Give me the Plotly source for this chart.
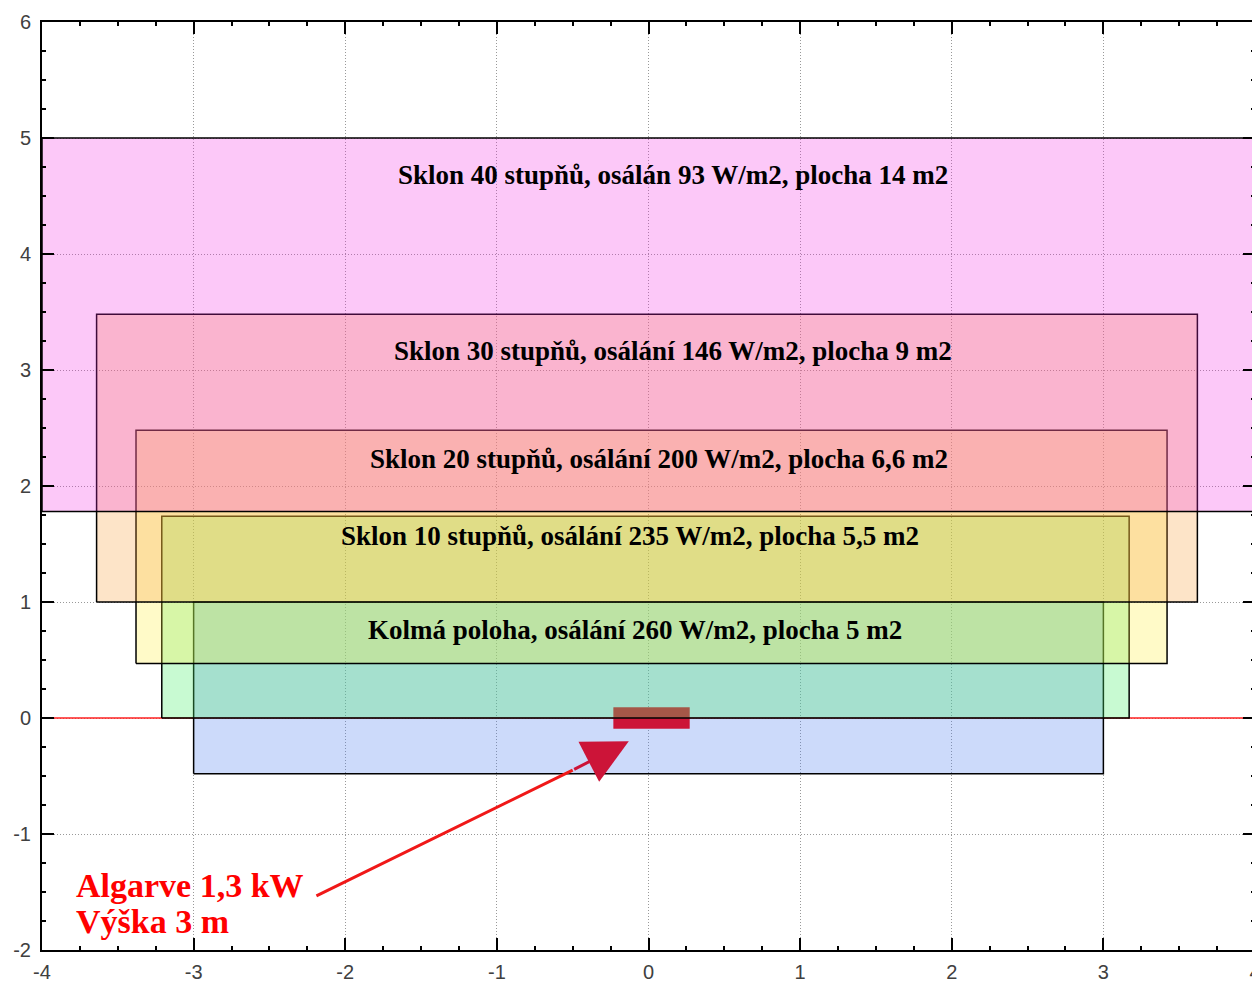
import plotly.graph_objects as go

# ---- data ----
labels = [
    "Kolmá poloha, osálání 260 W/m2, plocha 5 m2",
    "Sklon 10 stupňů, osálání 235 W/m2, plocha 5,5 m2",
    "Sklon 20 stupňů, osálání 200 W/m2, plocha 6,6 m2",
    "Sklon 30 stupňů, osálání 146 W/m2, plocha 9 m2",
    "Sklon 40 stupňů, osálán 93 W/m2, plocha 14 m2",
]
rect_x0 = [-3.0, -3.21, -3.38, -3.64, -4.0]
rect_x1 = [3.0, 3.17, 3.42, 3.62, 4.0]
rect_y0 = [-0.48, 0.0, 0.47, 1.0, 1.78]
rect_y1 = [1.0, 1.74, 2.48, 3.48, 5.0]
rect_colors = [
    "rgba(85,132,238,0.30)",
    "rgba(77,239,110,0.31)",
    "rgba(255,237,52,0.27)",
    "rgba(248,155,52,0.27)",
    "rgba(243,43,228,0.26)",
]
label_x = [-0.09, -0.12, 0.07, 0.16, 0.16]
label_y = [0.76, 1.57, 2.23, 3.16, 4.68]

tick_vals = [-4, -3, -2, -1, 0, 1, 2, 3, 4]
x_tick_text = ["-4", "-3", "-2", "-1", "0", "1", "2", "3", "4"]
y_tick_vals = [-2, -1, 0, 1, 2, 3, 4, 5, 6]
y_tick_text = ["-2", "-1", "0", "1", "2", "3", "4", "5", "6"]

ground_x = [-4, 4]
ground_y = [0, 0]

unit_x = [-0.23, 0.27]
unit_y = [-0.09, 0.09]

note_lines = ["Algarve 1,3 kW", "Výška 3 m"]
note_x = -3.79
note_line_y = [-1.44, -1.75]
arrow_tail = (-2.2, -1.54)
arrow_mid = (-0.5, -0.45)
arrow_tip = (-0.13, -0.20)

fig = go.Figure()

# ground line
fig.add_trace(go.Scatter(x=ground_x, y=ground_y, mode="lines",
                         line=dict(color="#ff2020", width=1.5),
                         hoverinfo="skip", showlegend=False))


def rect_trace(i):
    xs = [rect_x0[i], rect_x1[i], rect_x1[i], rect_x0[i], rect_x0[i]]
    ys = [rect_y0[i], rect_y0[i], rect_y1[i], rect_y1[i], rect_y0[i]]
    return go.Scatter(x=xs, y=ys, mode="lines", fill="toself",
                      fillcolor=rect_colors[i],
                      line=dict(color="black", width=1.5),
                      hoverinfo="skip", showlegend=False)


# kolmá
fig.add_trace(rect_trace(0))
# the unit (drawn between kolmá and 10° layer)
fig.add_trace(go.Scatter(
    x=[unit_x[0], unit_x[1], unit_x[1], unit_x[0], unit_x[0]],
    y=[unit_y[0], unit_y[0], unit_y[1], unit_y[1], unit_y[0]],
    mode="lines", fill="toself", fillcolor="#cc1438",
    line=dict(color="#cc1438", width=0.5),
    hoverinfo="skip", showlegend=False))
for i in range(1, 5):
    fig.add_trace(rect_trace(i))

for i, t in enumerate(labels):
    fig.add_annotation(x=label_x[i], y=label_y[i], text=t, showarrow=False,
                       font=dict(family="Liberation Serif", size=27,
                                 color="black", weight="bold"))

# arrow line
fig.add_annotation(x=arrow_mid[0], y=arrow_mid[1], ax=arrow_tail[0], ay=arrow_tail[1],
                   axref="x", ayref="y", xref="x", yref="y", text="",
                   showarrow=True, arrowhead=0, arrowwidth=3, arrowcolor="#f01818")
# arrow head
fig.add_annotation(x=arrow_tip[0], y=arrow_tip[1], ax=arrow_mid[0], ay=arrow_mid[1],
                   axref="x", ayref="y", xref="x", yref="y", text="",
                   showarrow=True, arrowhead=2, arrowsize=3, arrowwidth=3,
                   arrowcolor="#cc1438")

for t, yv in zip(note_lines, note_line_y):
    fig.add_annotation(x=note_x, y=yv, text=t, showarrow=False,
                       xanchor="left", yanchor="middle", align="left",
                       font=dict(family="Liberation Serif", size=34,
                                 color="#ff0000", weight="bold"))

axis_common = dict(
    showgrid=True, gridcolor="#999999", griddash="1px,2px", gridwidth=1,
    ticks="inside", ticklen=12, tickwidth=2, tickcolor="black",
    showline=True, linecolor="black", linewidth=2, mirror="allticks",
    zeroline=False, automargin=False, ticklabeloverflow="allow",
    tickfont=dict(family="Liberation Sans", size=20, color="#404040"),
    minor=dict(dtick=0.25, ticks="inside", ticklen=4, tickwidth=1.5,
               tickcolor="black", showgrid=False),
)
fig.update_xaxes(range=[-4, 4], tickmode="array", tickvals=tick_vals,
                 ticktext=x_tick_text, ticklabelstandoff=3, **axis_common)
fig.update_yaxes(range=[-2, 6], tickmode="array", tickvals=y_tick_vals,
                 ticktext=y_tick_text, ticklabelstandoff=5, **axis_common)

fig.update_layout(
    width=1252, height=976,
    margin=dict(l=34, r=5, t=14, b=34),
    plot_bgcolor="white", paper_bgcolor="white",
    showlegend=False,
)

fig.write_html("out.html")
